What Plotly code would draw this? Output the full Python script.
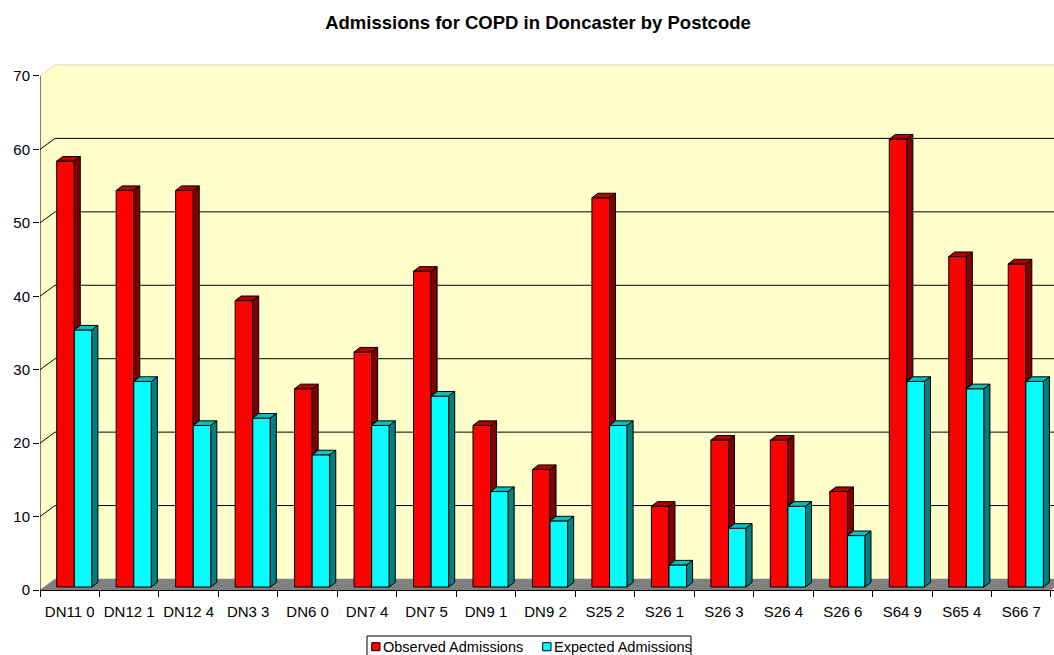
import plotly.graph_objects as go

# ---- data ----
postcodes = ["DN11 0", "DN12 1", "DN12 4", "DN3 3", "DN6 0", "DN7 4", "DN7 5", "DN9 1",
             "DN9 2", "S25 2", "S26 1", "S26 3", "S26 4", "S26 6", "S64 9", "S65 4", "S66 7"]
observed = [58, 54, 54, 39, 27, 32, 43, 22, 16, 53, 11, 20, 20, 13, 61, 45, 44]
expected = [35, 28, 22, 23, 18, 22, 26, 13, 9, 22, 3, 8, 11, 7, 28, 27, 28]
series_names = ["Observed Admissions", "Expected Admissions"]
y_ticks = [0, 10, 20, 30, 40, 50, 60, 70]

# ---- geometry (pixel scale -> data units) ----
W, H = 1054, 655
ML, MR, MT, MB = 40, 0, 60, 65
PW, PH = W - ML - MR, H - MT - MB
PXX = 59.47          # px per category
PXY = 7.343          # px per unit value
XMAX = PW / PXX
YMAX = PH / PXY
N = len(postcodes)

WDX, WDY = 15 / PXX, 11 / PXY        # wall depth
BDX, BDY = 4 / PXX, 3 / PXY          # bar plane offset
SDX, SDY = 6 / PXX, 4.6 / PXY        # bar depth
BW = 17.6 / PXX                      # bar width
RL = 12.7 / PXX                      # red bar left offset within category (front plane)

YTOP = max(y_ticks)
WALL = "#FFFFCC"
EDGE = "#D6D6B0"
RED, CYAN = "#FF0000", "#00FFFF"


def px2paper_x(px):
    return (px - ML) / PW


def px2paper_y(py):
    return (H - MB - py) / PH


shapes = []
# left side wall
shapes.append(dict(type="path", layer="below", line=dict(width=0), fillcolor=WALL,
                   path=f"M0,0 L{WDX},{WDY} L{WDX},{YTOP+WDY} L0,{YTOP} Z"))
# back wall
shapes.append(dict(type="rect", layer="below", line=dict(width=0), fillcolor=WALL,
                   x0=WDX, x1=N + WDX, y0=WDY, y1=YTOP + WDY))
# floor
shapes.append(dict(type="path", layer="below", line=dict(color="#808080", width=0.5), fillcolor="#808080",
                   path=f"M0,0 L{N},0 L{N+WDX},{WDY} L{WDX},{WDY} Z"))
# gridlines + diagonals
for v in y_ticks[1:]:
    col = EDGE if v == YTOP else "black"
    shapes.append(dict(type="line", layer="below", line=dict(color=col, width=1),
                       x0=WDX, x1=N + WDX + 1, y0=v + WDY, y1=v + WDY))
    shapes.append(dict(type="line", layer="below", line=dict(color=col, width=1),
                       x0=0, x1=WDX, y0=v, y1=v + WDY))
# y axis line
shapes.append(dict(type="line", layer="below", line=dict(color="black", width=1),
                   x0=0, x1=0, y0=0, y1=YTOP))

fig = go.Figure()

red_x = [i + RL + BDX + BW / 2 for i in range(N)]
cyan_x = [i + RL + BDX + BW * 1.5 for i in range(N)]

fig.add_trace(go.Bar(x=red_x, y=observed, base=[BDY] * N, width=BW, name=series_names[0],
                     marker=dict(color=RED, line=dict(color="black", width=1)), showlegend=False,
                     hovertext=postcodes, hovertemplate="%{hovertext}: %{y}<extra>Observed</extra>"))
fig.add_trace(go.Bar(x=cyan_x, y=expected, base=[BDY] * N, width=BW, name=series_names[1],
                     marker=dict(color=CYAN, line=dict(color="black", width=1)), showlegend=False,
                     hovertext=postcodes, hovertemplate="%{hovertext}: %{y}<extra>Expected</extra>"))


def poly_trace(polys, color):
    xs, ys = [], []
    for p in polys:
        for (a, b) in p + [p[0]]:
            xs.append(a)
            ys.append(b)
        xs.append(None)
        ys.append(None)
    return go.Scatter(x=xs, y=ys, mode="lines", fill="toself", fillcolor=color,
                      line=dict(color="black", width=1), showlegend=False, hoverinfo="skip")


red_side, red_top, cyan_side, cyan_top = [], [], [], []
for i in range(N):
    rl = i + RL + BDX
    cl = rl + BW
    rt = BDY + observed[i]
    ct = BDY + expected[i]
    lo = min(rt, ct)
    red_side.append([(cl, lo), (cl, rt), (cl + SDX, rt + SDY), (cl + SDX, lo + SDY)])
    red_top.append([(rl, rt), (rl + BW, rt), (rl + BW + SDX, rt + SDY), (rl + SDX, rt + SDY)])
    cyan_top.append([(cl, ct), (cl + BW, ct), (cl + BW + SDX, ct + SDY), (cl + SDX, ct + SDY)])
    cyan_side.append([(cl + BW, BDY), (cl + BW, ct), (cl + BW + SDX, ct + SDY), (cl + BW + SDX, BDY + SDY)])

fig.add_trace(poly_trace(red_side, "#800000"))
fig.add_trace(poly_trace(red_top, "#B00000"))
fig.add_trace(poly_trace(cyan_top, "#00C0C0"))
fig.add_trace(poly_trace(cyan_side, "#008080"))

FONT = "Arial, Liberation Sans, sans-serif"

# ---- legend (drawn below the plot) ----
LEG_TOP, LEG_L, LEG_R = 636, 367, 691
legend_items = [(371.7, series_names[0], RED), (542.7, series_names[1], CYAN)]
shapes.append(dict(type="rect", xref="paper", yref="paper", layer="above",
                   x0=px2paper_x(LEG_L), x1=px2paper_x(LEG_R),
                   y0=px2paper_y(LEG_TOP), y1=px2paper_y(H + 5),
                   line=dict(color="black", width=1), fillcolor="rgba(0,0,0,0)"))
annotations = []
for (sx, txt, col) in legend_items:
    shapes.append(dict(type="rect", xref="paper", yref="paper", layer="above",
                       x0=px2paper_x(sx), x1=px2paper_x(sx + 8.3),
                       y0=px2paper_y(650.7), y1=px2paper_y(642.7),
                       line=dict(color="black", width=1), fillcolor=col))
    annotations.append(dict(text=txt, xref="paper", yref="paper", showarrow=False,
                            x=px2paper_x(sx + 9.5), y=px2paper_y(647), xanchor="left", yanchor="middle",
                            font=dict(family=FONT, size=14.5, color="black")))

fig.update_layout(
    width=W, height=H,
    margin=dict(l=ML, r=MR, t=MT, b=MB),
    paper_bgcolor="white", plot_bgcolor="white",
    barmode="overlay",
    font=dict(family=FONT, size=15, color="black"),
    title=dict(text="<b>Admissions for COPD in Doncaster by Postcode</b>",
               x=538 / W, xref="container", xanchor="center",
               y=1 - 23 / H, yref="container", yanchor="middle",
               font=dict(family=FONT, size=18.5, color="black")),
    shapes=shapes,
    annotations=annotations,
    showlegend=False,
    xaxis=dict(range=[0, XMAX], tickmode="array",
               tickvals=[i + 0.5 for i in range(N)], ticktext=postcodes,
               ticks="outside", ticklen=8, tickcolor="rgba(0,0,0,0)",
               tickfont=dict(family=FONT, size=15),
               minor=dict(tickmode="array", tickvals=list(range(N + 1)), ticks="outside",
                          ticklen=6, tickcolor="black", tickwidth=1),
               showline=True, linecolor="black", linewidth=1,
               showgrid=False, zeroline=False, fixedrange=True),
    yaxis=dict(range=[0, YMAX], tickmode="array", tickvals=y_ticks,
               ticks="outside", ticklen=6, tickcolor="black",
               tickfont=dict(family=FONT, size=15),
               showline=False, showgrid=False, zeroline=False, fixedrange=True),
)

fig.write_html("out.html")
